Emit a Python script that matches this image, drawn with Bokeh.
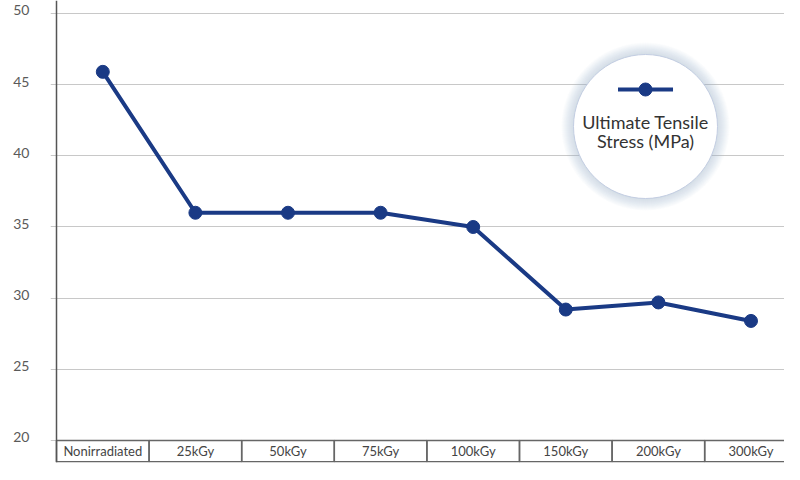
from bokeh.plotting import figure
from bokeh.models import Range1d, FixedTicker, LinearAxis, Grid, Span
from bokeh.core.properties import value
from bokeh.embed import file_html
from bokeh.resources import INLINE

# ---- data ----
categories = ["Nonirradiated", "25kGy", "50kGy", "75kGy", "100kGy", "150kGy", "200kGy", "300kGy"]
uts_mpa = [45.9, 36.0, 36.0, 36.0, 35.0, 29.2, 29.7, 28.4]
y_ticks = [20, 25, 30, 35, 40, 45, 50]
legend_lines = ["Ultimate Tensile", "Stress (MPa)"]

NAVY = "#1a3a85"
FONT = "Lato"
xs = list(range(len(categories)))

Y0, Y1 = 18.454, 50.913
LBL_SHIFT = 0.211

p = figure(width=784, height=464, output_backend="svg", toolbar_location=None,
           x_range=Range1d(-0.5648, 7.362), y_range=Range1d(Y0, Y1),
           x_axis_location=None, y_axis_location=None,
           min_border_left=50, min_border_right=0, min_border_top=0, min_border_bottom=2)
p.outline_line_color = None
p.background_fill_color = "white"
p.border_fill_color = "white"
p.center = []  # drop default grids

# horizontal grid lines (start a little left of the axis line, like tick stubs)
p.add_layout(Grid(dimension=1, ticker=FixedTicker(ticks=y_ticks),
                  grid_line_color="#c8c8c8", grid_line_width=1))

# tick labels, sitting just above their grid line
p.extra_y_ranges = {"lbl": Range1d(Y0 - LBL_SHIFT, Y1 - LBL_SHIFT)}
lab_axis = LinearAxis(y_range_name="lbl", ticker=FixedTicker(ticks=y_ticks),
                      axis_line_color=None, major_tick_line_color=None,
                      minor_tick_line_color=None, major_label_standoff=15,
                      major_label_text_font=FONT, major_label_text_font_size="14px",
                      major_label_text_color="#5a5a5a")
p.add_layout(lab_axis, "left")

# axis line
p.add_layout(Span(location=-0.5, dimension="height", line_color="#555555", line_width=1.5))

# category table row
CELL_BOTTOM, CELL_TOP = 18.51, 20.0
p.quad(left=[x - 0.5 for x in xs], right=[x + 0.5 for x in xs],
       bottom=CELL_BOTTOM, top=CELL_TOP, fill_color=None,
       line_color="#666666", line_width=1.5)
p.text(x=xs, y=[(CELL_BOTTOM + CELL_TOP) / 2] * len(xs), text=categories,
       text_align="center", text_baseline="middle",
       text_font=value(FONT), text_font_size="13px", text_color="#444444")

# series
p.line(xs, uts_mpa, line_width=4, line_color=NAVY)
p.scatter(xs, uts_mpa, size=13, fill_color=NAVY, line_color=NAVY)

# circular legend
LX, LY = 5.861, 42.06
D = 144
for k in range(12, 0, -1):
    p.scatter([LX], [LY], size=D + 2 * k, fill_color="#a8b8dc", fill_alpha=0.045, line_color=None)
p.scatter([LX], [LY], size=D, fill_color="white", line_color="#c3cde2", line_width=1)
p.line([LX - 0.297, LX + 0.297], [44.66, 44.66], line_width=4, line_color=NAVY)
p.scatter([LX], [44.66], size=13, fill_color=NAVY, line_color=NAVY)
p.text(x=[LX, LX], y=[42.41, 41.01], text=legend_lines, text_align="center", text_baseline="middle",
       text_font=value(FONT), text_font_size="18px", text_color="#333333")

open("out.html", "w").write(file_html(p, INLINE))
